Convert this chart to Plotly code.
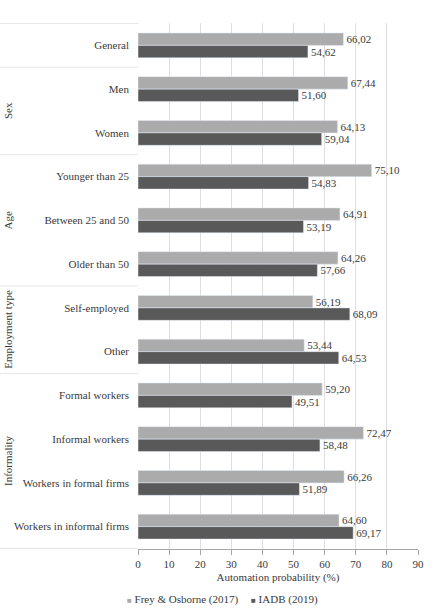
import plotly.graph_objects as go

categories = ["General", "Men", "Women", "Younger than 25", "Between 25 and 50",
              "Older than 50", "Self-employed", "Other", "Formal workers",
              "Informal workers", "Workers in formal firms", "Workers in informal firms"]
frey_osborne = [66.02, 67.44, 64.13, 75.10, 64.91, 64.26, 56.19, 53.44, 59.20, 72.47, 66.26, 64.60]
iadb = [54.62, 51.60, 59.04, 54.83, 53.19, 57.66, 68.09, 64.53, 49.51, 58.48, 51.89, 69.17]
groups = [("Sex", 1, 2), ("Age", 3, 5), ("Employment type", 6, 7), ("Informality", 8, 11)]
x_ticks = [0, 10, 20, 30, 40, 50, 60, 70, 80, 90]
series_names = ["Frey & Osborne (2017)", "IADB (2019)"]
series_colors = ["#ababab", "#595959"]

FONT = "Liberation Serif, Times New Roman, DejaVu Serif, serif"
TXT = "#3a3a3a"
L, R, T, B, W, H = 138, 20, 23, 65, 438, 614
PW, PH = W - L - R, H - T - B

def fmt(v):
    return f"{v:.2f}".replace(".", ",")

def px_x(x):
    return (x - L) / PW

def px_y(y):
    return (H - B - y) / PH

fig = go.Figure()
for vals, name, col in zip([frey_osborne, iadb], series_names, series_colors):
    fig.add_trace(go.Bar(y=categories, x=vals, orientation="h",
                         name=name, marker_color=col, showlegend=False,
                         text=[fmt(v) for v in vals], textposition="outside",
                         textfont=dict(family=FONT, size=11, color=TXT), cliponaxis=False))

sep_color = "#e6e6e6"
bounds = [-0.5, 0.5] + [g[2] + 0.5 for g in groups]
for b in bounds:
    fig.add_shape(type="line", xref="paper", yref="y", x0=px_x(0), x1=0.0, y0=b, y1=b,
                  line=dict(color=sep_color, width=1))
for name, a, b in groups:
    fig.add_annotation(text=name, xref="paper", yref="y", x=px_x(8), y=(a + b) / 2,
                       xanchor="center", yanchor="middle",
                       textangle=-90, showarrow=False,
                       font=dict(family=FONT, size=11, color=TXT))

# legend (drawn as small squares + text, like the source)
leg_x = [125, 249]
for name, col, lx in zip(series_names, series_colors, leg_x):
    fig.add_annotation(xref="paper", yref="paper", x=px_x(lx), y=px_y(599),
                       xanchor="left", yanchor="middle", showarrow=False,
                       text=f"<span style='color:{col};font-size:8px'>■</span> {name}",
                       font=dict(family=FONT, size=11, color=TXT))

fig.update_layout(
    width=W, height=H,
    margin=dict(l=L, r=R, t=T, b=B),
    paper_bgcolor="white", plot_bgcolor="white",
    barmode="group", bargap=0.43, bargroupgap=0.0,
    font=dict(family=FONT, size=11, color=TXT),
    showlegend=False,
    xaxis=dict(range=[0, 90], tickvals=x_ticks, showgrid=True, gridcolor="#dedede",
               gridwidth=1, zeroline=False, showline=True, linecolor="#a6a6a6",
               ticks="outside", ticklen=5, tickcolor="#a6a6a6", automargin=False,
               tickfont=dict(family=FONT, size=11, color=TXT),
               title=dict(text="Automation probability (%)", standoff=4,
                          font=dict(family=FONT, size=11, color=TXT))),
    yaxis=dict(autorange="reversed", showgrid=False, zeroline=False, showline=False,
               ticks="", ticklabelstandoff=8, automargin=False,
               tickfont=dict(family=FONT, size=11, color=TXT)),
)

fig.write_html("out.html")
